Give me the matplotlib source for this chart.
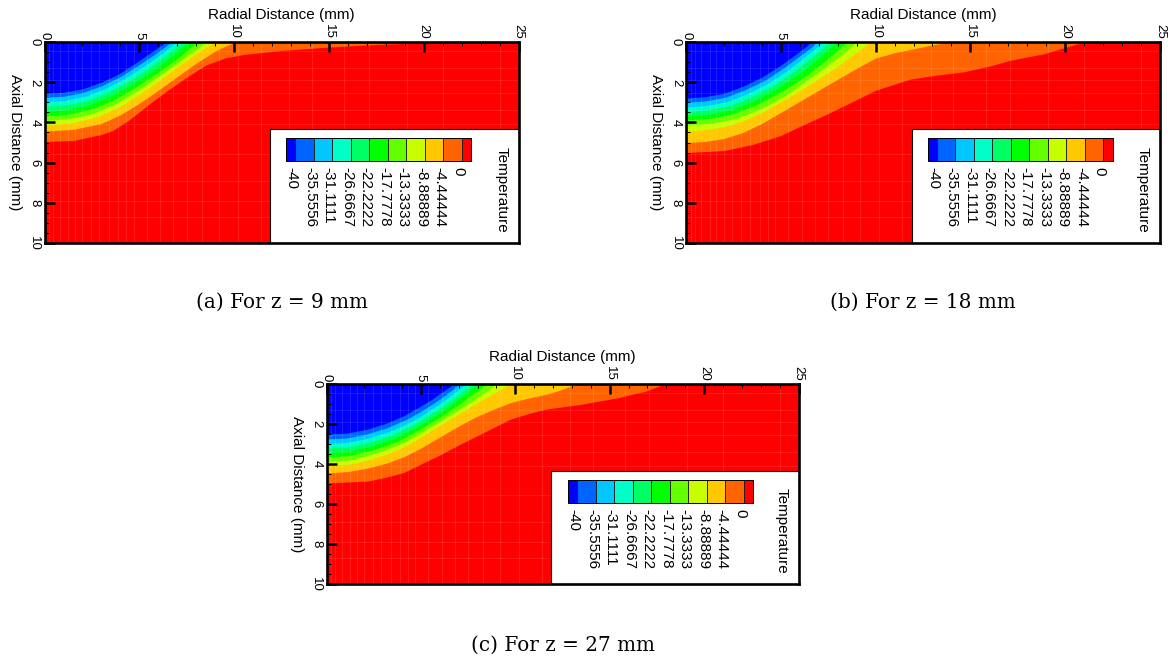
import matplotlib
matplotlib.use("Agg")
import matplotlib.pyplot as plt
from matplotlib.colors import ListedColormap, BoundaryNorm
from matplotlib.cm import ScalarMappable
from matplotlib.patches import Rectangle
from matplotlib.ticker import MultipleLocator
from matplotlib.transforms import ScaledTranslation

plt.rcParams["font.family"] = ["Liberation Sans", "DejaVu Sans"]

# Temperature contour levels and their legend labels
levels = [-40, -35.5556, -31.1111, -26.6667, -22.2222, -17.7778,
          -13.3333, -8.88889, -4.44444, 0]
level_labels = ["-40", "-35.5556", "-31.1111", "-26.6667", "-22.2222",
                "-17.7778", "-13.3333", "-8.88889", "-4.44444", "0"]

# Band colours from coldest (< -40) to warmest (> 0)
band_colors = ["#0000ff", "#0064ff", "#00c8ff", "#00ffc8", "#00ff64", "#00ff00",
               "#64ff00", "#c8ff00", "#ffc800", "#ff6400", "#ff0000"]

# Isotherm positions (radial r, axial z in mm), one curve per level, z = 9 mm
a_r = [
    [0, 1.0, 2.0, 3.0, 3.9, 4.8, 5.6, 6.1, 6.4],
    [0, 1.0, 2.0, 3.0, 4.0, 5.0, 5.9, 6.4, 6.7],
    [0, 1.05, 2.1, 3.15, 4.2, 5.25, 6.15, 6.65, 7.0],
    [0, 1.1, 2.2, 3.3, 4.4, 5.5, 6.4, 6.95, 7.3],
    [0, 1.15, 2.3, 3.45, 4.6, 5.75, 6.7, 7.25, 7.65],
    [0, 1.2, 2.4, 3.6, 4.8, 6.0, 7.1, 7.65, 8.05],
    [0, 1.3, 2.55, 3.8, 5.1, 6.4, 7.5, 8.1, 8.5],
    [0, 1.35, 2.7, 4.0, 5.0, 6.0, 7.0, 8.0, 8.6, 9.0],
    [0, 1.5, 3.0, 4.0, 5.0, 6.0, 7.0, 8.0, 9.0, 9.6, 10.1],
    [0, 1.5, 3.0, 3.6, 4.5, 5.5, 6.5, 7.5, 8.5, 9.5, 10.5, 12.5, 15.0, 17.5, 20.0, 21.5],
]
a_z = [
    [2.55, 2.5, 2.33, 2.0, 1.6, 1.05, 0.53, 0.2, 0],
    [2.75, 2.7, 2.52, 2.18, 1.72, 1.12, 0.55, 0.2, 0],
    [2.97, 2.91, 2.71, 2.34, 1.83, 1.2, 0.6, 0.22, 0],
    [3.2, 3.13, 2.92, 2.52, 1.97, 1.3, 0.65, 0.25, 0],
    [3.45, 3.38, 3.14, 2.7, 2.1, 1.4, 0.7, 0.27, 0],
    [3.68, 3.6, 3.35, 2.9, 2.25, 1.5, 0.75, 0.3, 0],
    [3.9, 3.82, 3.55, 3.05, 2.3, 1.45, 0.7, 0.3, 0],
    [4.12, 4.04, 3.74, 3.2, 2.6, 1.95, 1.25, 0.58, 0.22, 0],
    [4.43, 4.35, 4.05, 3.62, 3.05, 2.4, 1.72, 1.05, 0.45, 0.18, 0],
    [4.95, 4.9, 4.6, 4.4, 3.85, 3.1, 2.4, 1.75, 1.15, 0.8, 0.62, 0.42, 0.25, 0.12, 0.04, 0],
]

# z = 18 mm
b_r = [
    [0, 1, 2, 3, 4, 5, 5.8, 6.3, 6.6],
    [0, 1.05, 2.1, 3.1, 4.2, 5.2, 6.05, 6.6, 6.9],
    [0, 1.1, 2.2, 3.25, 4.35, 5.45, 6.3, 6.85, 7.2],
    [0, 1.15, 2.3, 3.4, 4.6, 5.7, 6.65, 7.2, 7.6],
    [0, 1.2, 2.4, 3.6, 4.8, 6.0, 7.0, 7.55, 7.95],
    [0, 1.3, 2.55, 3.8, 5.1, 6.4, 7.45, 8.05, 8.5],
    [0, 1.35, 2.7, 4.05, 5.4, 6.75, 7.9, 8.55, 9.0],
    [0, 1, 2, 3, 4, 5, 6, 7, 8, 9, 9.7],
    [0, 1, 2, 3, 4, 5, 6, 7, 8, 9.2, 10, 11, 11.7, 12.8, 13.8],
    [0, 2, 3.5, 5, 6, 7.4, 8.6, 10, 11.8, 13.2, 14.6, 16, 17.1, 18.9, 20.6, 21.3],
]
b_z = [
    [2.79, 2.72, 2.55, 2.2, 1.75, 1.15, 0.6, 0.25, 0],
    [3.0, 2.93, 2.74, 2.38, 1.88, 1.25, 0.65, 0.27, 0],
    [3.24, 3.16, 2.96, 2.56, 2.03, 1.35, 0.7, 0.29, 0],
    [3.46, 3.38, 3.16, 2.74, 2.17, 1.45, 0.75, 0.31, 0],
    [3.68, 3.6, 3.36, 2.92, 2.3, 1.54, 0.8, 0.33, 0],
    [3.88, 3.8, 3.55, 3.08, 2.43, 1.63, 0.84, 0.35, 0],
    [4.13, 4.05, 3.78, 3.28, 2.55, 1.66, 0.85, 0.36, 0],
    [4.42, 4.37, 4.22, 3.93, 3.5, 2.98, 2.42, 1.82, 1.2, 0.5, 0],
    [5.0, 4.95, 4.8, 4.5, 4.05, 3.5, 2.95, 2.4, 1.85, 1.2, 0.8, 0.53, 0.4, 0.18, 0],
    [5.5, 5.4, 5.1, 4.65, 4.2, 3.6, 3.05, 2.4, 1.85, 1.65, 1.49, 1.2, 0.91, 0.58, 0.1, 0],
]

# z = 27 mm
c_r = [
    [0, 1.1, 2.2, 3.2, 4.1, 4.9, 5.6, 6.2, 6.75],
    [0, 1.06, 2.12, 3.17, 4.23, 5.08, 5.85, 6.49, 7.05],
    [0, 1.1, 2.21, 3.31, 4.41, 5.29, 6.1, 6.76, 7.35],
    [0, 1.16, 2.31, 3.47, 4.62, 5.54, 6.39, 7.08, 7.7],
    [0, 1.2, 2.4, 3.6, 4.8, 5.76, 6.64, 7.36, 8.0],
    [0, 1.27, 2.54, 3.8, 5.07, 6.08, 7.01, 7.77, 8.45],
    [0, 1.35, 2.7, 4.05, 5.4, 6.48, 7.47, 8.28, 9.0],
    [0, 1.1, 2.2, 3.2, 4.1, 5, 6, 7, 7.85, 8.6, 9.2, 9.7],
    [0, 1.1, 2.2, 3.2, 4.1, 5, 6, 7, 7.85, 8.8, 9.75, 10.7, 11.6, 12.4, 13.2],
    [0, 2.2, 3.2, 4.1, 5, 6, 7, 7.85, 8.8, 9.75, 10.7, 11.6, 13.5, 15.4, 16.9, 17.6, 17.9],
]
c_z = [
    [2.5, 2.45, 2.25, 1.95, 1.58, 1.15, 0.75, 0.35, 0],
    [2.75, 2.7, 2.5, 2.2, 1.77, 1.32, 0.85, 0.41, 0],
    [2.98, 2.92, 2.71, 2.38, 1.92, 1.43, 0.92, 0.45, 0],
    [3.2, 3.14, 2.9, 2.54, 2.02, 1.5, 0.96, 0.46, 0],
    [3.43, 3.36, 3.09, 2.71, 2.13, 1.58, 1.01, 0.48, 0],
    [3.65, 3.57, 3.27, 2.85, 2.19, 1.61, 1.02, 0.49, 0],
    [3.88, 3.78, 3.43, 2.95, 2.21, 1.59, 1.01, 0.49, 0],
    [4.1, 4.02, 3.8, 3.5, 3.14, 2.65, 2.06, 1.5, 1.01, 0.6, 0.28, 0],
    [4.45, 4.38, 4.2, 3.95, 3.63, 3.2, 2.65, 2.1, 1.67, 1.28, 0.93, 0.7, 0.52, 0.3, 0],
    [4.95, 4.85, 4.65, 4.42, 4.0, 3.55, 3.05, 2.65, 2.2, 1.75, 1.48, 1.26, 1.01, 0.69, 0.36, 0.11, 0],
]

# Computational mesh lines (mm) that show faintly through the flood
mesh_r = [0.25, 0.45, 0.8, 1.25, 1.6, 2.0, 2.45, 2.9, 3.4, 3.9, 4.3, 4.7, 5.4,
          6.1, 6.8, 7.5, 8.3, 9.2, 10.2, 11.4, 12.9, 14.1, 15.8, 17.1, 19.1,
          21.0, 24.0]
mesh_z = [0.45, 1.3, 1.9, 2.55, 3.4, 4.1, 5.55, 6.9, 7.9, 8.7]

captions = ["(a) For z = 9 mm", "(b) For z = 18 mm", "(c) For z = 27 mm"]

W, H = 1168, 660
fig = plt.figure(figsize=(W / 100, H / 100), dpi=100)


def frac(left, top, width, height):
    return [left / W, 1 - (top + height) / H, width / W, height / H]


cmap = ListedColormap(band_colors[1:-1])
cmap.set_under(band_colors[0])
cmap.set_over(band_colors[-1])
norm = BoundaryNorm(levels, cmap.N)


def draw_panel(box, iso_r, iso_z, caption, cap_y):
    left, top, width, height = box
    ax = fig.add_axes(frac(left, top, width, height))
    ax.set_facecolor(band_colors[-1])
    # fill the region colder than each level, warmest first
    for k in range(len(levels) - 1, -1, -1):
        ax.fill_between(iso_r[k], 0, iso_z[k], color=band_colors[k],
                        lw=0, zorder=1)
    for r in mesh_r:
        ax.axvline(r, color="white", alpha=0.11, lw=0.8, zorder=1.5)
    for z in mesh_z:
        ax.axhline(z, color="white", alpha=0.09, lw=0.8, zorder=1.5)
    ax.set_xlim(0, 25)
    ax.set_ylim(10, 0)

    ax.xaxis.tick_top()
    ax.xaxis.set_major_locator(MultipleLocator(5))
    ax.xaxis.set_minor_locator(MultipleLocator(1))
    ax.yaxis.set_major_locator(MultipleLocator(2))
    ax.yaxis.set_minor_locator(MultipleLocator(0.5))
    ax.tick_params(which="both", direction="in", top=True, bottom=False,
                   left=True, right=False, colors="black")
    ax.tick_params(which="major", length=7.5, width=1.8, labelsize=9.5)
    ax.tick_params(which="minor", length=3.2, width=0.7)
    ax.tick_params(axis="x", which="major", labelrotation=-90, pad=2)
    ax.tick_params(axis="y", which="major", labelrotation=-90, pad=3)
    for lbl in ax.get_yticklabels():
        lbl.set_va("center")
    for sp in ax.spines.values():
        sp.set_linewidth(1.9)
        sp.set_zorder(4)

    # legend frame
    ax.add_patch(Rectangle((11.9, 4.33), 25 - 11.9, 10 - 4.33,
                           facecolor="white", edgecolor="black", lw=0.8,
                           zorder=2))
    ax.text(24.1, 7.36, "Temperature", rotation=-90, ha="center",
            va="center", fontsize=11, zorder=3)

    cax = fig.add_axes(frac(left + 241.5, top + 96, 185, 22.5))
    sm = ScalarMappable(norm=norm, cmap=cmap)
    cb = fig.colorbar(sm, cax=cax, orientation="horizontal", extend="both",
                      extendrect=True, extendfrac=0.056, drawedges=True,
                      ticks=levels)
    cb.outline.set_linewidth(0.7)
    cb.dividers.set_linewidth(0.7)
    cb.dividers.set_color("#222222")
    cax.set_xticklabels(level_labels)
    cax.tick_params(length=0, pad=5, labelsize=11, labelrotation=-90)
    shift = ScaledTranslation(-3.5 / 100, 0, fig.dpi_scale_trans)
    for lbl in cax.get_xticklabels():
        lbl.set_transform(lbl.get_transform() + shift)

    fig.text((left + width / 2) / W, 1 - (top - 27) / H,
             "Radial Distance (mm)", ha="center", va="center", fontsize=11)
    fig.text((left - 30) / W, 1 - (top + height / 2) / H,
             "Axial Distance (mm)", ha="center", va="center", fontsize=11,
             rotation=-90)
    fig.text((left + width / 2) / W, 1 - cap_y / H, caption,
             ha="center", va="center", fontsize=14.4, family="DejaVu Serif")
    return ax


draw_panel((44.5, 42, 474, 201), a_r, a_z, captions[0], 302)
draw_panel((686, 42, 474, 201), b_r, b_z, captions[1], 302)
draw_panel((326.5, 384, 472, 200), c_r, c_z, captions[2], 645)

fig.savefig("out.png", dpi=100)
